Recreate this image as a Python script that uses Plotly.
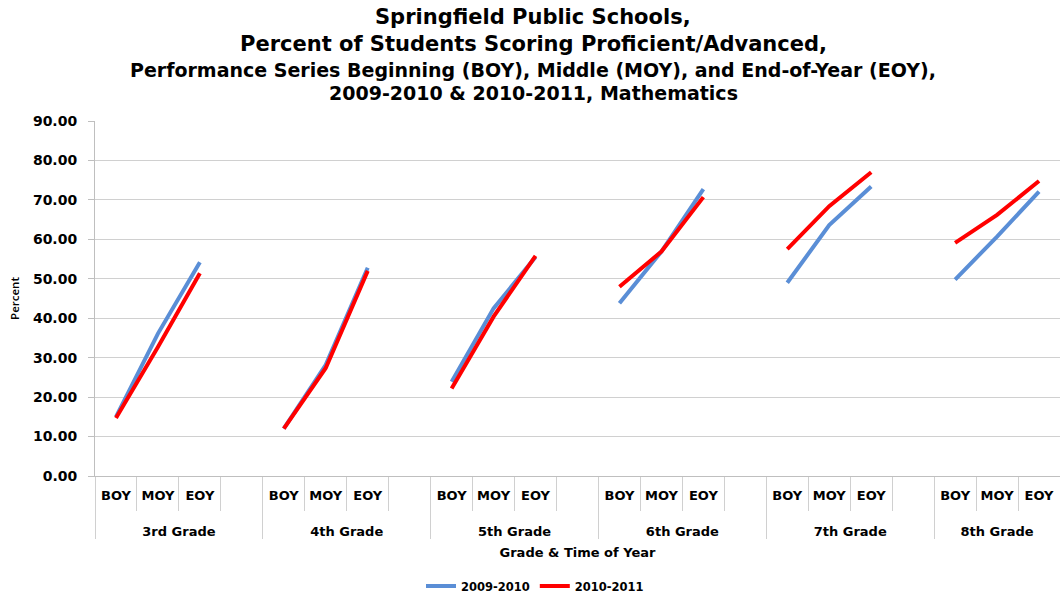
import plotly.graph_objects as go

grades = ["3rd Grade", "4th Grade", "5th Grade", "6th Grade", "7th Grade", "8th Grade"]
periods = ["BOY", "MOY", "EOY"]
series_names = ["2009-2010", "2010-2011"]
vals_2009_2010 = [15.0, 36.1, 54.2, 12.0, 28.2, 52.8, 23.9, 42.5, 55.5,
                  43.8, 56.9, 72.7, 49.0, 63.6, 73.4, 49.8, 60.7, 72.1]
vals_2010_2011 = [14.7, 32.7, 51.4, 12.0, 27.4, 52.0, 22.2, 40.4, 55.8,
                  48.0, 56.9, 70.7, 57.5, 68.4, 77.0, 59.1, 66.2, 74.8]
y_ticks = [0, 10, 20, 30, 40, 50, 60, 70, 80, 90]
title_lines = ["Springfield Public Schools,",
               "Percent of Students Scoring Proficient/Advanced,",
               "Performance Series Beginning (BOY), Middle (MOY), and End-of-Year (EOY),",
               "2009-2010 & 2010-2011, Mathematics"]

# build multicategory x with a blank slot between grade groups
# (a spacer line under each period label leaves room for the grade row below)
SPACER = "<br><span style='font-size:36px'> </span>"
outer, inner = [], []
def expand(vals):
    out = []
    for gi, g in enumerate(grades):
        for pi, p in enumerate(periods):
            out.append(vals[gi * 3 + pi])
        if gi < len(grades) - 1:
            out.append(None)
    return out

for gi, g in enumerate(grades):
    for p in periods:
        outer.append(g)
        inner.append(p + SPACER)
    if gi < len(grades) - 1:
        outer.append(g)
        inner.append(" " + SPACER)

W, H = 1060, 597
L, R, T, B = 95, 0, 121, 121
ph = H - T - B
pw = W - L - R

fig = go.Figure()
colors = ["#5a8ed6", "#ff0000"]
for name, vals, c in zip(series_names, [vals_2009_2010, vals_2010_2011], colors):
    fig.add_trace(go.Scatter(x=[outer, inner], y=expand(vals), mode="lines", name=name,
                             line=dict(color=c, width=4), connectgaps=False))

bold = dict(family="DejaVu Sans", size=13, color="black", weight="bold")
ybold = dict(family="DejaVu Sans", size=14, color="black", weight="bold")

fig.update_layout(
    width=W, height=H,
    margin=dict(l=L, r=R, t=T, b=B, autoexpand=False),
    paper_bgcolor="white", plot_bgcolor="white",
    showlegend=True,
    legend=dict(orientation="h", x=(535 - L) / pw, xanchor="center",
                y=(H - B - 586) / ph, yanchor="middle",
                font=dict(family="DejaVu Sans", size=11.5, color="black", weight="bold")),
    xaxis=dict(type="multicategory", range=[-0.5, 22.5], showline=True, linecolor="#bfbfbf",
               linewidth=1, ticks="outside", tickson="boundaries", ticklen=34, tickcolor="#d0d0d0",
               dividercolor="#d0d0d0", dividerwidth=1, showgrid=False, tickfont=bold,
               tickangle=0, automargin=False, ticklabelstandoff=7,
               title=dict(text="Grade & Time of Year", font=bold, standoff=10)),
    yaxis=dict(range=[0, 90], tickvals=y_ticks, tickformat=".2f", showgrid=True,
               gridcolor="#d0d0d0", showline=True, linecolor="#bfbfbf", linewidth=1,
               ticks="outside", ticklen=6, tickcolor="#bfbfbf", zeroline=False,
               tickfont=ybold, ticklabelstandoff=8, automargin=False,
               title=dict(text="Percent",
                          font=dict(family="Open Sans", size=11.5, color="black", weight=600),
                          standoff=10)),
)

line_px = [17, 44, 70, 93]
sizes = [21, 21, 19, 19]
for txt, py, s in zip(title_lines, line_px, sizes):
    fig.add_annotation(text=txt, xref="paper", yref="paper", x=(533 - L) / pw,
                       y=(H - B - py) / ph, xanchor="center", yanchor="middle", showarrow=False,
                       font=dict(family="DejaVu Sans", size=s, color="black", weight="bold"))

fig.write_html("out.html", config={"displayModeBar": False},
               post_script="document.body.style.margin='0';")
